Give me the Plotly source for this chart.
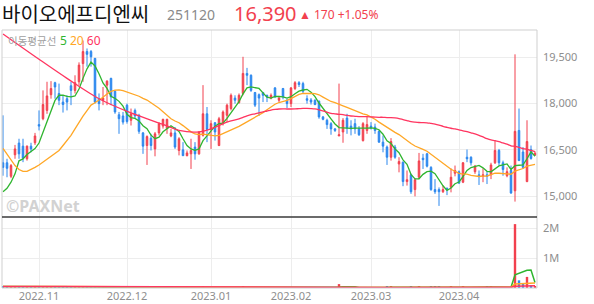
import pandas as pd
import plotly.graph_objects as go

# ---------------- data ----------------
holidays = ["2022-12-30", "2023-01-23", "2023-01-24", "2023-03-01"]
dates = [d.strftime("%Y-%m-%d") for d in pd.bdate_range("2022-10-19", "2023-04-28")
         if d.strftime("%Y-%m-%d") not in holidays]

tick_dates = ["2022-11-01", "2022-12-01", "2023-01-02", "2023-02-01", "2023-03-02", "2023-04-03"]
tick_labels = ["2022.11", "2022.12", "2023.01", "2023.02", "2023.03", "2023.04"]

open_ = [16080, 16080, 15640, 16340, 16720, 16620, 16210, 16620, 16730, 17320,
         17510, 17780, 18290, 18680, 18330, 18050, 18160, 18580, 18430, 18710,
         19300, 19690, 19690, 19470, 18160, 18100, 18600, 18820, 18400, 17640,
         17600, 17950, 17460, 17780, 17620, 17050, 16640, 16880, 16530, 17050,
         17270, 17190, 16950, 17050, 16480, 16500, 16310, 16370, 16590, 16370,
         16970, 17670, 17160, 17380, 16640, 17350, 17620, 17840, 18180, 18030,
         18330, 18980, 18920, 18360, 18290, 18360, 18270, 18180, 18510, 18110,
         18490, 18110, 18000, 18490, 18680, 18650, 18160, 18120, 18110, 18080,
         17570, 17460, 17350, 17180, 16950, 17080, 17530, 17270, 17350, 17190,
         16800, 17130, 17270, 17240, 17100, 16750, 16590, 16260, 16590, 16040,
         16100, 15470, 15690, 15210, 15610, 16230, 16370, 15930, 15210, 15210,
         15140, 15250, 15280, 15740, 15790, 15450, 16260, 16260, 15790, 15690,
         15640, 15690, 15690, 16080, 16480, 16080, 15660, 15830, 15170, 17130,
         16430, 15470, 16510, 16330]
high = [17620, 16210, 16040, 16660, 16860, 16860, 16640, 16730, 17050, 17780,
        18430, 18710, 18730, 18710, 18650, 18250, 18270, 18710, 18920, 19340,
        20050, 19790, 19740, 19470, 18330, 18540, 18760, 18840, 18430, 17730,
        17730, 18000, 17840, 17840, 17670, 17080, 16970, 17020, 17080, 17400,
        17510, 17510, 17180, 17240, 16910, 16750, 16480, 16860, 16750, 17100,
        18600, 17890, 17460, 17400, 17570, 17780, 18000, 18330, 18270, 18330,
        19520, 19160, 18950, 18380, 18330, 18380, 18290, 18330, 18540, 18250,
        18510, 18160, 18540, 18730, 18730, 18710, 18270, 18180, 18140, 18100,
        17600, 17510, 17400, 17210, 18650, 17530, 17670, 17460, 17510, 17270,
        17400, 17570, 17400, 17350, 17130, 16970, 16640, 16880, 16660, 16260,
        16120, 15830, 15720, 15580, 16400, 16370, 16400, 15970, 15550, 15280,
        15340, 15280, 15900, 15990, 15830, 16100, 16510, 16290, 16010, 15830,
        15900, 15790, 16080, 16800, 16530, 16150, 15930, 15990, 19600, 17840,
        16590, 17460, 16640, 16450]
low = [15660, 15610, 15580, 16210, 16210, 16100, 16150, 16420, 16660, 17130,
       17460, 17670, 18160, 18160, 17950, 17710, 17780, 17950, 18330, 18600,
       18710, 19200, 19200, 18000, 17780, 17950, 17950, 17950, 17670, 17020,
       17320, 17350, 17290, 17510, 17020, 16370, 16010, 16480, 16290, 16970,
       17190, 17020, 16910, 16530, 16320, 16310, 16290, 15880, 16180, 16340,
       16930, 16750, 16530, 16800, 16620, 17290, 17400, 17780, 18000, 18000,
       18270, 18600, 18380, 17890, 17600, 18050, 18050, 18140, 18180, 18050,
       18140, 17860, 17890, 18440, 18540, 18330, 18000, 17970, 17950, 17510,
       17460, 17180, 16990, 17080, 16950, 16730, 17020, 16970, 17020, 16950,
       16770, 17020, 17160, 17020, 16730, 16420, 16010, 16150, 16210, 15770,
       15320, 15340, 15070, 14990, 15550, 15880, 15930, 15170, 15070, 14680,
       15100, 15030, 15120, 15640, 15390, 15420, 16100, 15990, 15720, 15360,
       15450, 15390, 15550, 16040, 15990, 15660, 15610, 15070, 14820, 16180,
       15880, 15450, 16180, 16300]
close = [15930, 15900, 15990, 16530, 16370, 16230, 16620, 16530, 16950, 17270,
         17970, 18250, 18490, 18540, 18110, 17970, 18050, 18430, 18680, 19250,
         19690, 19600, 19520, 18050, 18000, 18180, 18730, 18220, 17730, 17510,
         17400, 17420, 17670, 17600, 17100, 16620, 16930, 16640, 17020, 17350,
         17490, 17490, 17050, 16590, 16860, 16310, 16400, 16480, 16370, 17080,
         17670, 17160, 17350, 17080, 17510, 17730, 17950, 18270, 18110, 18270,
         18980, 18920, 18430, 17950, 18180, 18270, 18220, 18270, 18220, 18180,
         18220, 18000, 18510, 18680, 18620, 18400, 18110, 18050, 17970, 17570,
         17490, 17320, 17180, 17130, 16990, 17460, 17210, 17180, 17180, 16990,
         17350, 17320, 17210, 17130, 16750, 16620, 16260, 16770, 16260, 16120,
         15470, 15530, 15140, 15530, 16140, 16180, 15970, 15210, 15140, 15140,
         15210, 15210, 15610, 15830, 15420, 16080, 16210, 16080, 15970, 15630,
         15690, 15640, 16010, 16480, 16080, 15860, 15790, 15100, 17100, 16150,
         15930, 16770, 16220, 16390]
volume = [52000, 48000, 50000, 55000, 45000, 42000, 48000, 40000, 50000, 45000,
          60000, 58000, 45000, 40000, 42000, 38000, 35000, 42000, 45000, 50000,
          45000, 30000, 25000, 40000, 28000, 22000, 25000, 22000, 20000, 18000,
          15000, 18000, 16000, 15000, 18000, 22000, 20000, 16000, 18000, 16000,
          15000, 14000, 12000, 16000, 15000, 14000, 12000, 18000, 14000, 20000,
          45000, 22000, 18000, 15000, 20000, 16000, 18000, 20000, 14000, 15000,
          45000, 22000, 18000, 16000, 15000, 12000, 11000, 12000, 14000, 10000,
          12000, 11000, 18000, 16000, 12000, 13000, 12000, 10000, 11000, 15000,
          12000, 11000, 12000, 10000, 130000, 30000, 18000, 14000, 12000, 12000,
          18000, 14000, 12000, 11000, 14000, 15000, 40000, 35000, 18000, 14000,
          20000, 15000, 35000, 30000, 40000, 18000, 16000, 45000, 40000, 42000,
          15000, 14000, 35000, 30000, 16000, 40000, 20000, 15000, 12000, 14000,
          12000, 55000, 60000, 30000, 20000, 15000, 14000, 30000, 2130000, 255000,
          160000, 370000, 90000, 55000]

# moving-average values at the start of the window (history not shown)
ma5_head = [15140, 15250, 15450, 15720]
ma20_head = [16550, 16370, 16150, 15990, 15860, 15800, 15800, 15860, 15930, 16010,
             16100, 16180, 16290, 16370, 16480, 16640, 16800, 16970, 17180]
ma60_head_idx = [0, 9, 16, 24, 32, 41, 44, 49, 52, 56]
ma60_head = [20260, 19440, 18820, 18160, 17700, 17280, 17130, 17080, 17180, 17400]

# ---------------- derived series ----------------
cs = pd.Series(close, dtype=float)
ma5 = cs.rolling(5).mean().tolist()
ma20 = cs.rolling(20).mean().tolist()
ma60 = cs.rolling(60).mean().tolist()
ma5_y = ma5_head + ma5[4:]
ma20_y = ma20_head + ma20[19:]
ma60_x = [dates[i] for i in ma60_head_idx] + dates[59:]
ma60_y = ma60_head + ma60[59:]

vs = pd.Series(volume, dtype=float)
vma5 = vs.rolling(5, min_periods=1).mean()
vma20 = vs.rolling(20, min_periods=1).mean()
vma60 = vs.rolling(60, min_periods=1).mean()

RED = "#f2404e"
BLUE = "#2b87ee"
G5 = "#2fb52f"
O20 = "#ffa726"
R60 = "#ff3560"

vol_colors = [RED if c >= o else BLUE for o, c in zip(open_, close)]

# ---------------- layout geometry (pixels) ----------------
L, R_, T, B = 2, 537, 30, 288
W, H = R_ - L, B - T
SEP = 217


def px(x):
    return (x - L) / W


def py(y):
    return (B - y) / H


fig = go.Figure()
fig.add_trace(go.Candlestick(
    x=dates, open=open_, high=high, low=low, close=close,
    increasing=dict(line=dict(color=RED, width=1), fillcolor=RED),
    decreasing=dict(line=dict(color=BLUE, width=1), fillcolor=BLUE),
    whiskerwidth=0, xaxis="x", yaxis="y", hoverinfo="skip"))
fig.add_trace(go.Scatter(x=dates, y=ma5_y, mode="lines", line=dict(color=G5, width=1.3), yaxis="y"))
fig.add_trace(go.Scatter(x=dates, y=ma20_y, mode="lines", line=dict(color=O20, width=1.3), yaxis="y"))
fig.add_trace(go.Scatter(x=ma60_x, y=ma60_y, mode="lines", line=dict(color=R60, width=1.3, shape="spline"), yaxis="y"))

fig.add_trace(go.Bar(x=dates, y=volume, marker=dict(color=vol_colors, line=dict(width=0)),
                     width=0.6, yaxis="y2"))
fig.add_trace(go.Scatter(x=dates, y=vma5, mode="lines", line=dict(color=G5, width=1.5), yaxis="y2"))
fig.add_trace(go.Scatter(x=dates, y=vma20, mode="lines", line=dict(color=O20, width=1.5), yaxis="y2"))
fig.add_trace(go.Scatter(x=dates, y=vma60, mode="lines", line=dict(color=R60, width=1.5), yaxis="y2"))

tickfont = dict(family="Noto Sans", size=11, color="#8e8e8e")
vdom = py(SEP)

fig.update_layout(
    width=594, height=304,
    margin=dict(l=L, r=594 - R_, t=T, b=304 - B),
    paper_bgcolor="white", plot_bgcolor="white",
    showlegend=False, boxgap=0.45,
    xaxis=dict(type="category", range=[-0.25, 133.5], anchor="y2",
               tickvals=tick_dates, ticktext=tick_labels, tickfont=tickfont,
               showgrid=True, gridcolor="#ededed", gridwidth=1,
               rangeslider=dict(visible=False), ticks="", showline=False, zeroline=False),
    yaxis=dict(domain=[vdom, 1], range=[14320, 20390], side="right",
               tickvals=[15000, 16500, 18000, 19500], ticktext=["15,000", "16,500", "18,000", "19,500"],
               tickfont=tickfont, showgrid=True, gridcolor="#ededed", zeroline=False,
               ticks="", ticklabelstandoff=5),
    yaxis2=dict(domain=[0, vdom], range=[0, 2.367e6], side="right",
                tickvals=[1e6, 2e6], ticktext=["1M", "2M"], tickfont=tickfont,
                showgrid=True, gridcolor="#ededed", zeroline=False,
                ticks="", ticklabelstandoff=5),
)

fig.add_shape(type="rect", xref="paper", yref="paper", x0=0, x1=1, y0=0, y1=1,
              line=dict(color="#cfcfcf", width=1), layer="above")
fig.add_shape(type="line", xref="paper", yref="paper", x0=0, x1=1, y0=vdom, y1=vdom,
              line=dict(color="#3a3a3a", width=1.5), layer="above")

KR = "Noto Sans CJK KR"
ann = [
    dict(text="바이오에프디엔씨", x=px(0), y=py(14), size=20, color="#111111", family=KR),
    dict(text="251120", x=px(165), y=py(15), size=14, color="#8a8a8a", family="Noto Sans"),
    dict(text="16,390", x=px(232), y=py(14), size=20, color=RED, family="Noto Sans"),
    dict(text="▲ 170 +1.05%", x=px(297), y=py(15), size=12, color=RED, family="Noto Sans"),
    dict(text="이동평균선", x=px(6), y=py(41), size=10.5, color="#a0a0a0", family=KR),
    dict(text=f"<span style='color:{G5}'>5</span> <span style='color:{O20}'>20</span> "
              f"<span style='color:{R60}'>60</span>",
         x=px(58), y=py(41), size=12, color=G5, family="Noto Sans"),
    dict(text="<b>©PAXNet</b>", x=px(4), y=py(206), size=16, color="#d2d2d2", family="Noto Sans"),
]
for a in ann:
    fig.add_annotation(text=a["text"], x=a["x"], y=a["y"], xref="paper", yref="paper",
                       xanchor="left", yanchor="middle", showarrow=False,
                       font=dict(family=a["family"], size=a["size"], color=a["color"]))

fig.write_html("out.html")
